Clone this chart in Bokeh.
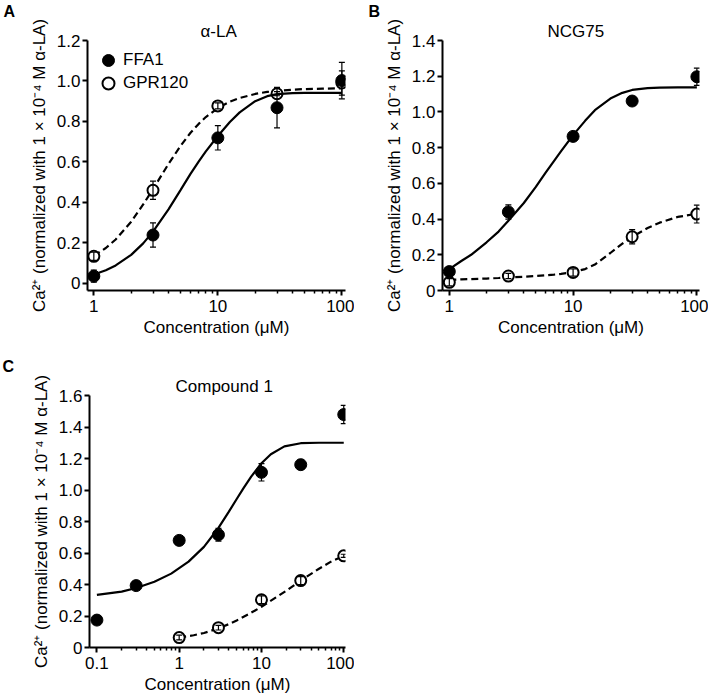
from bokeh.plotting import figure
from bokeh.layouts import column, row
from bokeh.models import (Range1d, FixedTicker, Whisker, TeeHead, ColumnDataSource,
                          Legend, LegendItem, Title)
from bokeh.embed import file_html
from bokeh.resources import INLINE

FONT = "Liberation Sans"
YLABEL = "Ca²⁺ (normalized with 1 × 10⁻⁴ M α-LA)"
XLABEL = "Concentration (μM)"

# ---------------- Panel A : alpha-LA ----------------
conc_A = [1, 3, 10, 30, 100]
ffa1_A = [0.036, 0.239, 0.719, 0.868, 1.002]
ffa1_A_err = [0.03, 0.06, 0.06, 0.10, 0.09]
gpr_A = [0.134, 0.460, 0.877, 0.937, 0.99]
gpr_A_err = [0.02, 0.045, 0.015, 0.01, 0.06]
curve_x_AB = [1, 1.25, 1.5, 2, 2.5, 3, 4, 5, 6, 7, 8, 10, 12.5, 15, 20, 25, 30, 40, 50, 70, 100]
ffa1_A_curve = [0.044, 0.065, 0.089, 0.141, 0.198, 0.256, 0.366, 0.461, 0.540, 0.602, 0.652,
                0.728, 0.797, 0.845, 0.900, 0.925, 0.935, 0.940, 0.941, 0.941, 0.941]
gpr_A_curve = [0.136, 0.175, 0.217, 0.305, 0.390, 0.466, 0.590, 0.679, 0.743, 0.788, 0.822,
               0.866, 0.898, 0.916, 0.936, 0.946, 0.951, 0.957, 0.960, 0.962, 0.964]

# ---------------- Panel B : NCG75 ----------------
conc_B = [1, 3, 10, 30, 100]
ffa1_B = [0.106, 0.44, 0.863, 1.061, 1.197]
ffa1_B_err = [0.02, 0.04, 0.02, 0.01, 0.048]
gpr_B = [0.046, 0.081, 0.101, 0.301, 0.428]
gpr_B_err = [0.02, 0.015, 0.02, 0.04, 0.05]
ffa1_B_curve = [0.12, 0.165, 0.20, 0.27, 0.33, 0.39, 0.49, 0.58, 0.66, 0.725, 0.78,
                0.87, 0.95, 1.01, 1.075, 1.107, 1.123, 1.133, 1.136, 1.138, 1.138]
gpr_B_curve = [0.059, 0.062, 0.064, 0.067, 0.070, 0.073, 0.077, 0.081, 0.085, 0.089, 0.093,
               0.103, 0.12, 0.145, 0.21, 0.262, 0.30, 0.35, 0.38, 0.412, 0.43]

# ---------------- Panel C : Compound 1 ----------------
conc_C_ffa1 = [0.1, 0.3, 1, 3, 10, 30, 100]
ffa1_C = [0.174, 0.393, 0.68, 0.716, 1.112, 1.161, 1.479]
ffa1_C_err = [0.0, 0.0, 0.0, 0.04, 0.055, 0.03, 0.058]
conc_C_gpr = [1, 3, 10, 30, 100]
gpr_C = [0.063, 0.126, 0.303, 0.425, 0.582]
gpr_C_err = [0.015, 0.015, 0.025, 0.025, 0.01]
ffa1_C_curve_x = [0.1, 0.2, 0.3, 0.5, 0.8, 1.3, 2, 3, 4, 5, 6, 7.5, 10, 13, 19, 30, 50, 100]
ffa1_C_curve = [0.334, 0.355, 0.378, 0.418, 0.469, 0.545, 0.639, 0.759, 0.861, 0.943, 1.009,
                1.085, 1.17, 1.227, 1.277, 1.297, 1.30, 1.30]
gpr_C_curve_x = [1, 1.5, 2, 3, 4, 5, 7, 10, 15, 20, 30, 50, 70, 100]
gpr_C_curve = [0.063, 0.078, 0.092, 0.122, 0.148, 0.172, 0.212, 0.258, 0.318, 0.36, 0.425,
               0.5, 0.545, 0.582]

# ticks
x_ticks_AB = [1, 10, 100]
x_tick_labels_AB = ["1", "10", "100"]
x_minor_AB = [2, 3, 4, 5, 6, 7, 8, 9, 20, 30, 40, 50, 60, 70, 80, 90]
x_ticks_C = [0.1, 1, 10, 100]
x_tick_labels_C = ["0.1", "1", "10", "100"]
x_minor_C = [0.2, 0.3, 0.4, 0.5, 0.6, 0.7, 0.8, 0.9] + x_minor_AB
y_ticks_A = [0, 0.2, 0.4, 0.6, 0.8, 1.0, 1.2]
y_labels_A = ["0", "0.2", "0.4", "0.6", "0.8", "1.0", "1.2"]
y_ticks_B = [0, 0.2, 0.4, 0.6, 0.8, 1.0, 1.2, 1.4]
y_labels_B = ["0", "0.2", "0.4", "0.6", "0.8", "1.0", "1.2", "1.4"]
y_ticks_C = [0, 0.2, 0.4, 0.6, 0.8, 1.0, 1.2, 1.4, 1.6]
y_labels_C = ["0", "0.2", "0.4", "0.6", "0.8", "1.0", "1.2", "1.4", "1.6"]


def make_fig(title, letter, w, h, xr, yr, borders, title_offset, letter_offset, lh=1.0):
    l, r, t, b = borders
    p = figure(width=w, height=h, x_axis_type="log", x_range=Range1d(*xr), y_range=Range1d(*yr),
               output_backend="svg", toolbar_location=None, title=None,
               min_border_left=l, min_border_right=r, min_border_top=t, min_border_bottom=b)
    p.add_layout(Title(text=title, align="left", offset=title_offset, standoff=0,
                       text_font=FONT, text_font_size="17px", text_font_style="normal",
                       text_color="black", text_line_height=lh), "above")
    p.add_layout(Title(text=letter, align="left", offset=letter_offset, standoff=0,
                       text_font=FONT, text_font_size="16px", text_font_style="bold",
                       text_color="black", text_line_height=lh), "above")
    p.xgrid.visible = False
    p.ygrid.visible = False
    p.outline_line_color = None
    p.background_fill_color = "white"
    p.border_fill_color = "white"
    return p


def style_axes(p, xt, xl, xminor, yt, yl):
    p.xaxis.ticker = FixedTicker(ticks=xt, minor_ticks=xminor)
    p.xaxis.major_label_overrides = {t: s for t, s in zip(xt, xl)}
    p.yaxis.ticker = FixedTicker(ticks=yt, minor_ticks=[])
    p.yaxis.major_label_overrides = {t: s for t, s in zip(yt, yl)}
    for ax in (p.xaxis[0], p.yaxis[0]):
        ax.axis_line_width = 2
        ax.axis_line_color = "black"
        ax.major_tick_line_width = 2
        ax.minor_tick_line_width = 1.5
        ax.major_tick_out = 5
        ax.major_tick_in = 0
        ax.minor_tick_out = 3
        ax.minor_tick_in = 0
        ax.major_label_text_font = FONT
        ax.major_label_text_font_size = "17px"
        ax.major_label_text_color = "black"
        ax.axis_label_text_font = FONT
        ax.axis_label_text_font_size = "17px"
        ax.axis_label_text_font_style = "normal"
        ax.axis_label_text_color = "black"
    p.yaxis.minor_tick_line_color = None
    p.xaxis.axis_label = XLABEL
    p.yaxis.axis_label = YLABEL
    p.xaxis.major_label_standoff = 4
    p.yaxis.major_label_standoff = 2
    p.xaxis.axis_label_standoff = 3
    p.yaxis.axis_label_standoff = 5


def add_series(p, cx, cy, dash, x, y, err, filled):
    p.line(cx, cy, line_color="black", line_width=2.2, line_dash=dash)
    if filled:
        r = p.scatter(x, y, marker="circle", size=12, fill_color="black", line_color="black")
    else:
        r = p.scatter(x, y, marker="circle", size=11, fill_color="white", line_color="black",
                      line_width=2)
    src = ColumnDataSource(dict(x=x, lower=[v - e for v, e in zip(y, err)],
                                upper=[v + e for v, e in zip(y, err)]))
    wk = Whisker(source=src, base="x", upper="upper", lower="lower", line_color="black",
                 line_width=1.2, level="overlay",
                 upper_head=TeeHead(size=6, line_width=1.2, line_color="black"),
                 lower_head=TeeHead(size=6, line_width=1.2, line_color="black"))
    p.add_layout(wk)
    return r


def legend_entry(p, label, renderer, loc):
    p.add_layout(Legend(items=[LegendItem(label=label, renderers=[renderer])],
                        location=loc, margin=0, padding=0, spacing=0,
                        glyph_width=30, glyph_height=30, label_height=30, label_standoff=0,
                        label_text_font=FONT, label_text_font_size="17px",
                        label_text_color="black",
                        background_fill_alpha=0, border_line_alpha=0))


# Panel A  (frame: left 87, width 258)
pA = make_fig("α-LA", "A", 354, 340, (0.889, 107), (-0.035, 1.2), (87, 9, 36, 50), 113, -84,
              lh=0.8)
gA = add_series(pA, curve_x_AB, gpr_A_curve, "7 4", conc_A, gpr_A, gpr_A_err, False)
fA = add_series(pA, curve_x_AB, ffa1_A_curve, "solid", conc_A, ffa1_A, ffa1_A_err, True)
style_axes(pA, x_ticks_AB, x_tick_labels_AB, x_minor_AB, y_ticks_A, y_labels_A)
legend_entry(pA, "FFA1", fA, (6, 215))
legend_entry(pA, "GPR120", gA, (6, 192))

# Panel B  (frame: left 88, width 257)
pB = make_fig("NCG75", "B", 354, 340, (0.881, 105), (0, 1.4), (88, 9, 36, 50), 105, -74,
              lh=0.8)
add_series(pB, curve_x_AB, gpr_B_curve, "7 4", conc_B, gpr_B, gpr_B_err, False)
add_series(pB, curve_x_AB, ffa1_B_curve, "solid", conc_B, ffa1_B, ffa1_B_err, True)
style_axes(pB, x_ticks_AB, x_tick_labels_AB, x_minor_AB, y_ticks_B, y_labels_B)

# Panel C  (frame: left 89, width 256, top 55)
pC = make_fig("Compound 1", "C", 354, 357, (0.0813, 105), (0, 1.6), (89, 9, 55, 50), 86, -87)
add_series(pC, gpr_C_curve_x, gpr_C_curve, "7 4", conc_C_gpr, gpr_C, gpr_C_err, False)
add_series(pC, ffa1_C_curve_x, ffa1_C_curve, "solid", conc_C_ffa1, ffa1_C, ffa1_C_err, True)
style_axes(pC, x_ticks_C, x_tick_labels_C, x_minor_C, y_ticks_C, y_labels_C)

layout = column(row(pA, pB, spacing=0), pC, spacing=0)
open("out.html", "w").write(file_html(layout, INLINE))
